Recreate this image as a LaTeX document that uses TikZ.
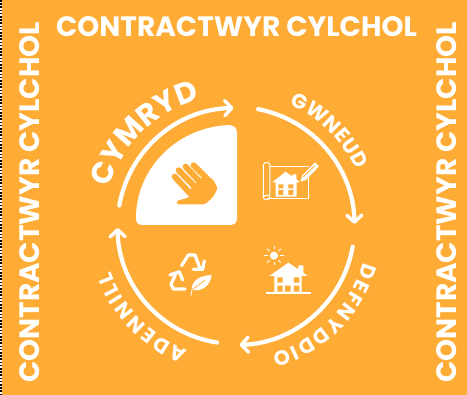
\documentclass[tikz,border=0pt]{standalone}
\usepackage{fontspec}
\setmainfont{Poppins}
\usetikzlibrary{decorations.text,arrows.meta}
\definecolor{bgorange}{HTML}{FEAC36}
\tikzset{
  x=1pt,y=-1pt,
  cycarrow/.style={draw=white,line width=4.2pt,line cap=round,-{Straight Barb[length=7pt,width=15pt,line width=3.4pt,round]}},
  banner/.style={text=white,font=\fontsize{28}{30}\selectfont\bfseries,inner sep=0pt},
  curved/.style={decorate,decoration={text along path,text align={fit to path},text={#1}}},
  zoomed/.style={shift={#1},x=0.3333pt,y=-0.3333pt},
  wline/.style={draw=white,line width=1pt,line join=round,line cap=round},
  thick line/.style={draw=white,line width=3.2pt,line join=round,line cap=round},
  finger/.style={draw=bgorange,line width=6pt,line cap=round}
}
\newcommand{\bigcurve}{\fontsize{30}{32}\selectfont\bfseries\color{white}}
\newcommand{\smallcurve}{\fontsize{20.5}{22}\selectfont\bfseries\color{white}}
\begin{document}
\begin{tikzpicture}
\useasboundingbox (0,0) rectangle (467,395);
\fill[bgorange] (0,0) rectangle (467,395);
\fill[white] (0,0) rectangle (2.2,395);
\draw[black,line width=1.6pt,dash pattern=on 1.6pt off 1.6pt] (1.1,0) -- (1.1,395);
\node[banner] (top) at (236.5,27) {CONTRACTWYR CYLCHOL};
\node[banner,rotate=90] (left) at (29.5,202.5) {CONTRACTWYR CYLCHOL};
\node[banner,rotate=90] (right) at (446.5,202.5) {CONTRACTWYR CYLCHOL};
\coordinate (c) at (235.5,226);
\draw[cycarrow] (c) ++(190:118) arc (190:269:118);
\draw[cycarrow] (c) ++(281:119) arc (281:359:119);
\draw[cycarrow] (c) ++(10:119) arc (10:88:119);
\draw[cycarrow] (c) ++(99:118) arc (99:179:118);
\path[curved={|\bigcurve|CYMRYD}] (c) ++(197:132) arc (197:253:132);
\path[curved={|\smallcurve|GWNEUD}] (c) ++(294:133) arc (294:335:133);
\path[curved={|\smallcurve|DEFNYDDIO}] (c) ++(16:133) arc (16:74:133);
\path[curved={|\smallcurve|ADENNILL}] (c) ++(111:133) arc (111:160:133);
% hand panel
\fill[white] (136,218) .. controls (136,170) and (175,128) .. (228,125)
  .. controls (234,125) and (237,128) .. (237,133) -- (237,218)
  .. controls (237,223) and (234,225) .. (230,225) -- (143,225)
  .. controls (138,225) and (136,223) .. (136,218) -- cycle;
\begin{scope}[zoomed={(160,155)}]
\fill[bgorange,rounded corners=1.5pt] (50,148) -- (50,138) -- (88,127) -- (90,103) -- (108,85) -- (122,70) -- (140,60)
  -- (160,75) -- (173,100) -- (160,125) -- (135,148) -- cycle;
\draw[finger] (44,65) -- (90,115) (56,46) -- (102,93) (77,35) -- (116,77) (101,31) -- (140,70);
\end{scope}
% blueprint
\begin{scope}[zoomed={(255,155)}]
\draw[wline] (45,35) -- (160,35) (160,60) -- (160,132) -- (38,132);
\draw[wline] (45,120) -- (45,30) .. controls (45,20) and (25,20) .. (25,30) -- (25,127) .. controls (25,137) and (45,137) .. (45,125) .. controls (45,120) and (30,118) .. (25,127);
\fill[white] (52,82) -- (92,50) -- (112,65) -- (112,58) -- (124,58) -- (124,72) -- (134,82) -- (125,82) -- (125,125) -- (62,125) -- (62,82) -- cycle;
\fill[bgorange] (70,88) rectangle (85,100) (100,88) rectangle (115,100) (70,105) rectangle (85,120) (100,105) rectangle (115,120);
\fill[white] (137,80) -- (141,62) -- (180,22) -- (192,34) -- (153,75) -- cycle;
\draw[bgorange,line width=0.8pt] (145,65) -- (180,32);
\end{scope}
% house and sun
\begin{scope}[zoomed={(260,240)}]
\fill[white] (42,47) circle[radius=12];
\foreach \a in {0,45,...,315}{\draw[white,line width=0.9pt] (42,47) ++(\a:19) -- ++(\a:10);}
\fill[white] (28,108) -- (85,68) -- (115,88) -- (115,76) -- (130,76) -- (130,98) -- (142,108) -- (125,108) -- (125,158) -- (43,158) -- (43,108) -- cycle;
\draw[white,line width=2pt] (17,160) -- (152,160);
\fill[bgorange] (52,112) rectangle (68,128) (102,112) rectangle (118,128) (52,137) rectangle (68,155) (75,137) rectangle (92,155) (102,137) rectangle (118,155);
\end{scope}
% recycling and leaf
\begin{scope}[zoomed={(160,245)}]
\draw[thick line] (65,62) -- (85,30) -- (105,30) -- (120,70);
\draw[thick line] (100,73) -- (128,73) -- (133,48);
\draw[thick line] (48,85) -- (33,118) -- (40,132) -- (75,132);
\draw[thick line] (30,90) -- (58,80) -- (68,105);
\fill[white] (155,90) .. controls (120,92) and (95,105) .. (95,135) .. controls (125,140) and (150,125) .. (155,90) -- cycle;
\draw[wline,line width=0.7pt] (93,152) -- (96,135);
\draw[bgorange,line width=0.7pt] (96,135) -- (135,105);
\end{scope}
\end{tikzpicture}
\end{document}
